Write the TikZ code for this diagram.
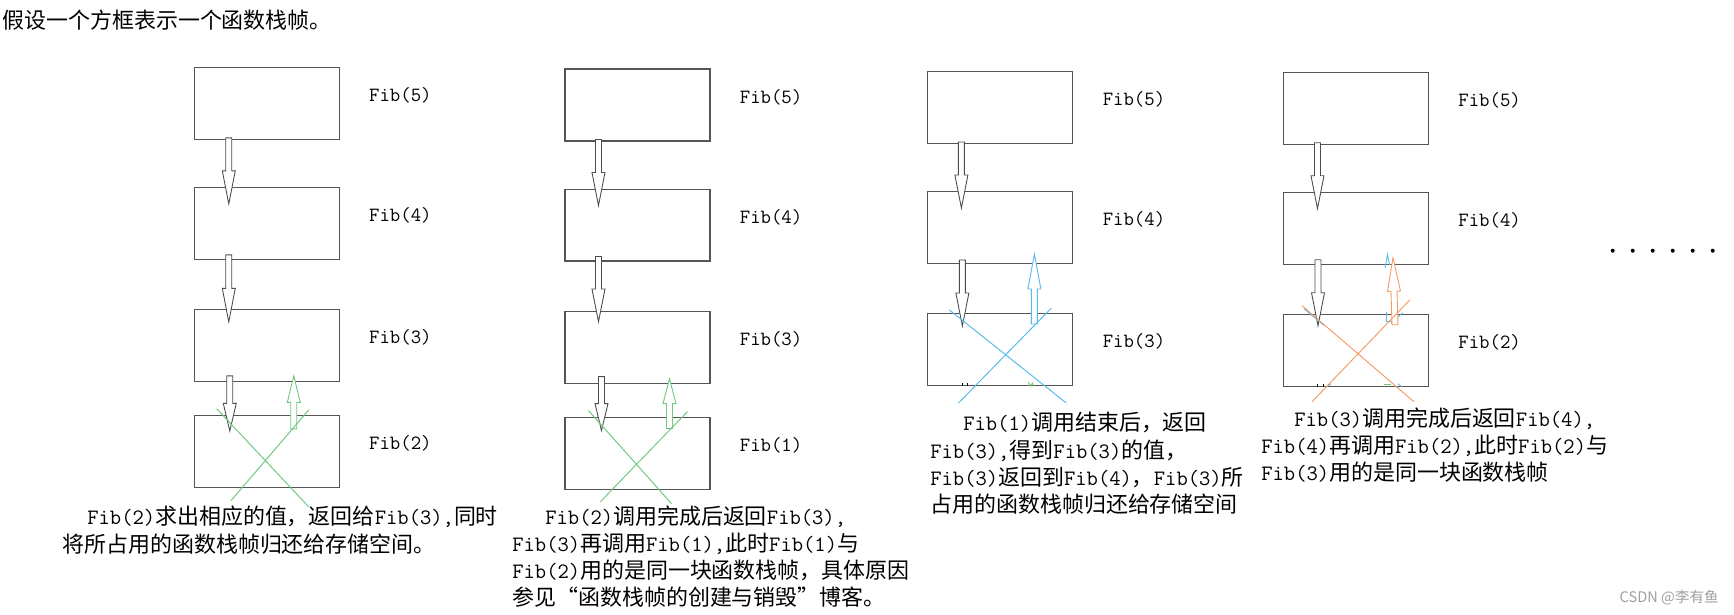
\documentclass[tikz,border=0pt]{standalone}
\usepackage{fontspec}
\setmainfont{Noto Sans CJK SC}
\usepackage{tikz}
\usetikzlibrary{positioning,calc}
\usepackage{xcolor}
\definecolor{framegray}{RGB}{85,85,85}
\definecolor{retgreen}{RGB}{110,200,125}
\definecolor{retblue}{RGB}{85,185,235}
\definecolor{retorange}{RGB}{245,155,100}
\newcommand{\fib}[1]{\texttt{Fib(#1)}}
% hollow block arrow from #2 (shaft end) to #3 (tip)
\newcommand{\blockarrow}[3][]{%
  \path (#2) coordinate (ba-s) (#3) coordinate (ba-e);
  \coordinate (ba-m) at ($(ba-s)!0.5!(ba-e)$);
  \draw[blockarr,#1] ($(ba-s)!0.06cm!90:(ba-e)$) -- ($(ba-m)!0.06cm!-90:(ba-s)$)
    -- ($(ba-m)!0.13cm!-90:(ba-s)$) -- (ba-e) -- ($(ba-m)!0.13cm!90:(ba-s)$)
    -- ($(ba-m)!0.06cm!90:(ba-s)$) -- ($(ba-s)!0.06cm!-90:(ba-e)$) -- cycle;}

\begin{document}
\begin{tikzpicture}[
      x=0.02cm, y=-0.02cm,
      node distance=0.94cm,
      frame/.style={rectangle, draw=framegray, line width=0.6pt,
                    minimum width=2.9cm, minimum height=1.44cm, inner sep=0pt},
      lbl/.style={font=\ttfamily\fontsize{11.5}{14}\selectfont, inner sep=0pt},
      note/.style={align=left, inner sep=0pt, anchor=north west,
                   font=\fontsize{12.5}{15.5}\selectfont},
      blockarr/.style={draw=black!70, line width=0.5pt, fill=white},
      crossline/.style={line width=0.55pt},
      remnant/.style={line width=0.5pt},
    ]
    \useasboundingbox (0,0) rectangle (1734,615);

    % Intro line
    \node[anchor=west, inner sep=0pt, font=\fontsize{12.5}{15.5}\selectfont] (intro) at (2,20)
      {假设一个方框表示一个函数栈帧。};

    % Column 1 frames
    \node[frame] (c1f5) at (266.8,103.3) {};
    \node[frame, below=0.94cm of c1f5] (c1f4) {};
    \node[frame, below=0.98cm of c1f4] (c1f3) {};
    \node[frame, below=0.66cm of c1f3] (c1f2) {};
    \node[lbl, right=0.58cm of c1f5, yshift=0.16cm] (c1l5) {Fib(5)};
    \node[lbl, right=0.58cm of c1f4, yshift=0.16cm] (c1l4) {Fib(4)};
    \node[lbl, right=0.58cm of c1f3, yshift=0.16cm] (c1l3) {Fib(3)};
    \node[lbl, right=0.58cm of c1f2, yshift=0.16cm] (c1l2) {Fib(2)};

    % Column 1 arrows
    \blockarrow{$(c1f5.south west)+(35,-2)$}{$(c1f4.north west)+(35,17)$}
    \blockarrow{$(c1f4.south west)+(35,-5)$}{$(c1f3.north west)+(35,13)$}
    \blockarrow{$(c1f3.south west)+(36,-6)$}{$(c1f2.north west)+(36,16)$}
    \blockarrow[draw=retgreen]{$(c1f2.north west)+(100,14)$}{$(c1f3.south west)+(100,-6)$}
    \draw[crossline, retgreen] ($(c1f2.north west)+(23,-6)$) -- ($(c1f2.south west)+(115,19)$);
    \draw[crossline, retgreen] ($(c1f2.north west)+(115,-5)$) -- ($(c1f2.south west)+(37,13)$);

    \node[note] (c1note) at (62,506)
      {\hspace*{0.5cm}\fib{2}求出相应的值，返回给\fib{3}\texttt{,}同时\\
       将所占用的函数栈帧归还给存储空间。};

    % Column 2 frames
    \node[frame] (c2f5) at (637.5,105) {};
    \node[frame, below=0.94cm of c2f5] (c2f4) {};
    \node[frame, below=0.98cm of c2f4] (c2f3) {};
    \node[frame, below=0.66cm of c2f3] (c2f1) {};
    \node[lbl, right=0.58cm of c2f5, yshift=0.16cm] (c2l5) {Fib(5)};
    \node[lbl, right=0.58cm of c2f4, yshift=0.16cm] (c2l4) {Fib(4)};
    \node[lbl, right=0.58cm of c2f3, yshift=0.16cm] (c2l3) {Fib(3)};
    \node[lbl, right=0.58cm of c2f1, yshift=0.16cm] (c2l1) {Fib(1)};

    % Column 2 arrows
    \blockarrow{$(c2f5.south west)+(34,-2)$}{$(c2f4.north west)+(34,17)$}
    \blockarrow{$(c2f4.south west)+(34,-5)$}{$(c2f3.north west)+(34,11)$}
    \blockarrow{$(c2f3.south west)+(37,-7)$}{$(c2f1.north west)+(37,14)$}
    \blockarrow[draw=retgreen]{$(c2f1.north west)+(105,12)$}{$(c2f3.south west)+(105,-5)$}
    \draw[crossline, retgreen] ($(c2f1.north west)+(24,-6)$) -- ($(c2f1.south west)+(107,14)$);
    \draw[crossline, retgreen] ($(c2f1.north west)+(123,-5)$) -- ($(c2f1.south west)+(36,12)$);

    \node[note] (c2note) at (512,505)
      {\hspace*{0.66cm}\fib{2}调用完成后返回\fib{3}\texttt{,}\\
       \fib{3}再调用\fib{1}\texttt{,}此时\fib{1}与\\
       \fib{2}用的是同一块函数栈帧，具体原因\\
       参见“函数栈帧的创建与销毁”博客。};

    % Column 3 frames
    \node[frame] (c3f5) at (1000.4,107.5) {};
    \node[frame, below=0.94cm of c3f5] (c3f4) {};
    \node[frame, below=0.98cm of c3f4] (c3f3) {};
    \node[lbl, right=0.58cm of c3f5, yshift=0.16cm] (c3l5) {Fib(5)};
    \node[lbl, right=0.58cm of c3f4, yshift=0.16cm] (c3l4) {Fib(4)};
    \node[lbl, right=0.58cm of c3f3, yshift=0.16cm] (c3l3) {Fib(3)};

    % Column 3 arrows
    \blockarrow{$(c3f5.south west)+(34,-2)$}{$(c3f4.north west)+(34,17)$}
    \blockarrow{$(c3f4.south west)+(35,-4)$}{$(c3f3.north west)+(35,13)$}
    \blockarrow[draw=retblue]{$(c3f3.north west)+(107,11)$}{$(c3f4.south west)+(107,-10)$}
    \draw[remnant, black] ($(c3f3.south west)+(35,-3)$) -- +(0,3) ($(c3f3.south west)+(40,-3)$) -- +(0,3);
    \draw[remnant, retgreen] ($(c3f3.south west)+(101,-4)$) -- +(2,4) -- +(4,1) -- +(5,4);
    \draw[crossline, retblue] ($(c3f3.north west)+(22,-3)$) -- ($(c3f3.south west)+(139,17)$);
    \draw[crossline, retblue] ($(c3f3.north west)+(124,-5)$) -- ($(c3f3.south west)+(31,17)$);

    \node[note] (c3note) at (930,412)
      {\hspace*{0.66cm}\fib{1}调用结束后，返回\\
       \fib{3}\texttt{,}得到\fib{3}的值，\\
       \fib{3}返回到\fib{4}，\fib{3}所\\
       占用的函数栈帧归还给存储空间};

    % Column 4 frames
    \node[frame] (c4f5) at (1356,108.2) {};
    \node[frame, below=0.94cm of c4f5] (c4f4) {};
    \node[frame, below=0.98cm of c4f4] (c4f2) {};
    \node[lbl, right=0.58cm of c4f5, yshift=0.16cm] (c4l5) {Fib(5)};
    \node[lbl, right=0.58cm of c4f4, yshift=0.16cm] (c4l4) {Fib(4)};
    \node[lbl, right=0.58cm of c4f2, yshift=0.16cm] (c4l2) {Fib(2)};

    % Column 4 arrows
    \blockarrow{$(c4f5.south west)+(34.5,-2)$}{$(c4f4.north west)+(34.5,17)$}
    \blockarrow{$(c4f4.south west)+(35,-5)$}{$(c4f2.north west)+(35,12)$}
    % leftover blue marks
    \draw[remnant, retblue] ($(c4f4.south west)+(102,3)$) -- +(2.5,-13.3) -- +(4.5,-3);
    \draw[remnant, retblue] ($(c4f2.north west)+(103.5,-2)$) |- +(6,10);
    \draw[remnant, retblue] ($(c4f2.north west)+(21,-5)$) -- +(20,16.6);
    \draw[remnant, retblue] ($(c4f2.north west)+(119.5,-1)$) -- +(-11.7,11);
    \blockarrow[draw=retorange]{$(c4f2.north west)+(112,11)$}{$(c4f4.south west)+(110,-7)$}
    \draw[remnant, black] ($(c4f2.south west)+(34.5,-3)$) -- +(0,3) ($(c4f2.south west)+(40,-3)$) -- +(0,3);
    \draw[remnant, retgreen] ($(c4f2.south west)+(101,-2)$) -- +(7,0);
    \draw[remnant, retblue] ($(c4f2.south west)+(44,0)$) -- +(4,-3) ($(c4f2.south west)+(115,-3)$) -- +(4,3);
    \draw[crossline, retorange] ($(c4f2.north west)+(19,-8)$) -- ($(c4f2.south west)+(131,15)$);
    \draw[crossline, retorange] ($(c4f2.north west)+(127,-14)$) -- ($(c4f2.south west)+(29,15)$);

    \node[note] (c4note) at (1261,407)
      {\hspace*{0.66cm}\fib{3}调用完成后返回\fib{4}\texttt{,}\\
       \fib{4}再调用\fib{2}\texttt{,}此时\fib{2}与\\
       \fib{3}用的是同一块函数栈帧};

    % Continuation dots
    \foreach \i in {0,...,5}
      \fill (1612.7+20*\i,250.7) circle[radius=0.04cm];

    % Watermark
    \node[anchor=east, inner sep=0pt, text=gray!75, font=\fontsize{8.3}{10}\selectfont] (mark)
      at (1719,598) {CSDN @李有鱼};
\end{tikzpicture}
\end{document}
